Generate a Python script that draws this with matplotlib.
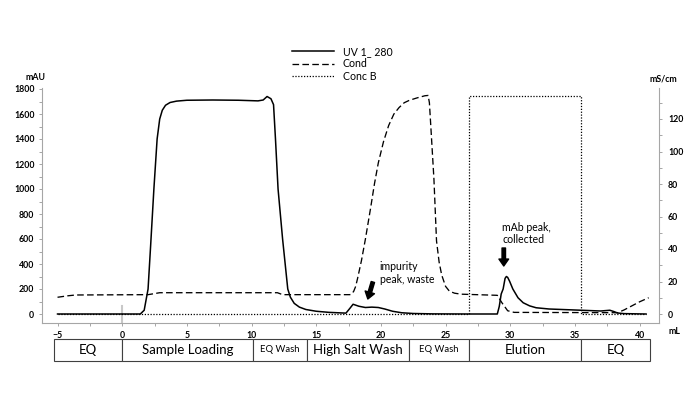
import numpy as np
import matplotlib
matplotlib.use("Agg")
import matplotlib.pyplot as plt
from matplotlib.patches import Rectangle

plt.rcParams['font.family'] = ['Lato', 'DejaVu Sans']

# -----------------------------
# Chromatogram data
# -----------------------------
uv_x = [-5, 1.4, 1.7, 2.0, 2.2, 2.45, 2.7, 2.9, 3.1, 3.35, 3.7, 4.2, 5, 7, 9, 10.5, 10.9,
        11.2, 11.5, 11.7, 11.85, 12.05, 12.4, 12.8, 13.0, 13.3, 13.7, 14.2, 15, 16, 17.3,
        17.6, 17.85, 18.3, 18.8, 19.3, 19.8, 20.3, 20.9, 21.6, 22.5, 24, 27,
        29.0, 29.15, 29.3, 29.45, 29.6, 29.7, 29.8, 29.95, 30.2, 30.6, 31.0, 31.5, 32, 33,
        35, 37, 37.7, 38.0, 38.3, 38.8, 40.5]
uv_y = [0, 0, 30, 200, 550, 1000, 1400, 1560, 1630, 1670, 1692, 1703, 1710, 1712, 1710, 1705, 1712,
        1740, 1722, 1675, 1400, 1000, 600, 200, 135, 85, 55, 36, 22, 13, 7,
        45, 78, 62, 52, 55, 52, 40, 22, 10, 4, 1, 0,
        0, 60, 160, 200, 285, 300, 293, 262, 200, 130, 90, 65, 50, 40,
        32, 24, 30, 20, 8, 3, 0]

cond_x = [-5, -4.2, -3.6, 2.0, 2.9, 12.0, 12.4, 17.6, 17.75, 17.9, 18.05, 18.2, 18.5,
          18.8, 19.2, 19.5, 19.8, 20.2, 20.6, 21.0, 21.4, 21.8, 22.2, 22.8, 23.4,
          23.65, 23.75, 23.9, 24.1, 24.3, 24.5, 24.7, 25.0, 25.3, 25.7, 26.2,
          29.0, 29.35, 29.8, 30.3, 38.3, 38.8, 39.4, 40.0, 40.7]
cond_y = [10.3, 11.2, 11.7, 11.9, 13.1, 13.1, 11.9, 11.9, 12.4, 14, 17, 22, 33,
          46, 65, 80, 93, 106, 116, 123, 127, 130, 131.5, 133, 134.3,
          134.5, 130, 110, 83, 45, 32, 24, 17, 14, 12.8, 12.2,
          11.5, 7, 2, 1.0, 0.8, 2.5, 5, 7.5, 10]

concb_x = [-5, 26.8, 26.8, 35.5, 35.5, 40.5]
concb_y = [0, 0, 134, 134, 0, 0]

phases = ["EQ", "Sample Loading", "EQ Wash", "High Salt Wash", "EQ Wash", "Elution", "EQ"]
phase_edges = [-5.3, 0, 10.1, 14.3, 22.2, 26.8, 35.5, 40.8]
phase_sizes = [9.5, 9.5, 6.8, 9.5, 6.8, 9.5, 9.5]

left_ticks = [0, 200, 400, 600, 800, 1000, 1200, 1400, 1600, 1800]
right_ticks = [0, 20, 40, 60, 80, 100, 120]
x_ticks = [-5, 0, 5, 10, 15, 20, 25, 30, 35, 40]

# -----------------------------
# Figure
# -----------------------------
fig = plt.figure(figsize=(7, 3.94), dpi=100)
ax = fig.add_axes([42/700, 1-323/394, 617/700, 235/394])
ax2 = ax.twinx()

xlim = (-6.2, 41.5)
ax.set_xlim(*xlim)
ax.set_ylim(-72, 1808)
ax2.set_ylim(-72/13, 1808/13)

gray = '#a6a6a6'
l_uv, = ax.plot(uv_x, uv_y, color='black', lw=1.1, label='UV 1_ 280', zorder=5,
                solid_joinstyle='round')
l_cond, = ax2.plot(cond_x, cond_y, color='black', lw=0.95, dashes=(5, 2.5), label='Cond')
l_cb, = ax2.plot(concb_x, concb_y, color='black', lw=0.9, dashes=(1, 1.3), label='Conc B')

# injection mark at 0 mL
ax.plot([0, 0], [-72, 65], color='#c8c8c8', lw=1.5, zorder=1)

for a in (ax, ax2):
    a.spines['top'].set_visible(False)
    for s in a.spines.values():
        s.set_color(gray)
        s.set_linewidth(0.8)
ax.spines['right'].set_visible(False)
ax2.spines['left'].set_visible(False)
ax2.spines['bottom'].set_visible(False)

ax.set_xticks(x_ticks)
ax.set_xticks(np.arange(-5, 41, 2.5), minor=True)
ax.set_yticks(left_ticks)
ax.set_yticks(np.arange(0, 1801, 100), minor=True)
ax2.set_yticks(right_ticks)
ax2.set_yticks(np.arange(0, 131, 10), minor=True)

ax.tick_params(axis='both', which='both', color=gray, length=2.5, width=0.7,
               labelsize=6.3, pad=3)
ax2.tick_params(axis='y', which='both', color=gray, length=2.5, width=0.7,
                labelsize=6.3, pad=4)
for lab in ax.get_xticklabels() + ax.get_yticklabels() + ax2.get_yticklabels():
    lab.set_fontweight('bold')

fig.text(35/700, 1-77/394, 'mAU', fontsize=6.3, fontweight='bold', ha='center', va='center')
fig.text(663/700, 1-79/394, 'mS/cm', fontsize=6.3, fontweight='bold', ha='center', va='center')
fig.text(674/700, 1-332/394, 'mL', fontsize=6.3, fontweight='bold', ha='center', va='center')

fig.legend(handles=[l_uv, l_cond, l_cb], loc='upper left',
           bbox_to_anchor=(292/700, 1-46/394), frameon=False, fontsize=7.6,
           handlelength=4.0, handletextpad=0.8, labelspacing=0.12,
           borderpad=0, borderaxespad=0)

# annotations
ax.annotate('', xy=(18.99, 120), xytext=(19.38, 256),
            arrowprops=dict(facecolor='black', edgecolor='black', width=2.5,
                            headwidth=7, headlength=5, shrink=0))
ax.text(19.9, 328, 'impurity\npeak, waste', fontsize=7.6, ha='left', va='center',
        linespacing=1.15)
ax.annotate('', xy=(29.5, 384), xytext=(29.5, 528),
            arrowprops=dict(facecolor='black', edgecolor='black', width=2.5,
                            headwidth=7, headlength=5, shrink=0))
ax.text(29.4, 644, 'mAb peak,\ncollected', fontsize=7.6, ha='left', va='center',
        linespacing=1.15)

# phase table
tax = fig.add_axes([42/700, 1-361/394, 617/700, 22/394])
tax.set_xlim(*xlim)
tax.set_ylim(0, 1)
tax.axis('off')
for i, name in enumerate(phases):
    x0, x1 = phase_edges[i], phase_edges[i+1]
    tax.add_patch(Rectangle((x0, 0), x1 - x0, 1, facecolor='white',
                            edgecolor='#404040', lw=0.8, clip_on=False))
    tax.text((x0 + x1) / 2, 0.5, name, fontsize=phase_sizes[i],
             ha='center', va='center')

fig.savefig('out.png', dpi=100)
